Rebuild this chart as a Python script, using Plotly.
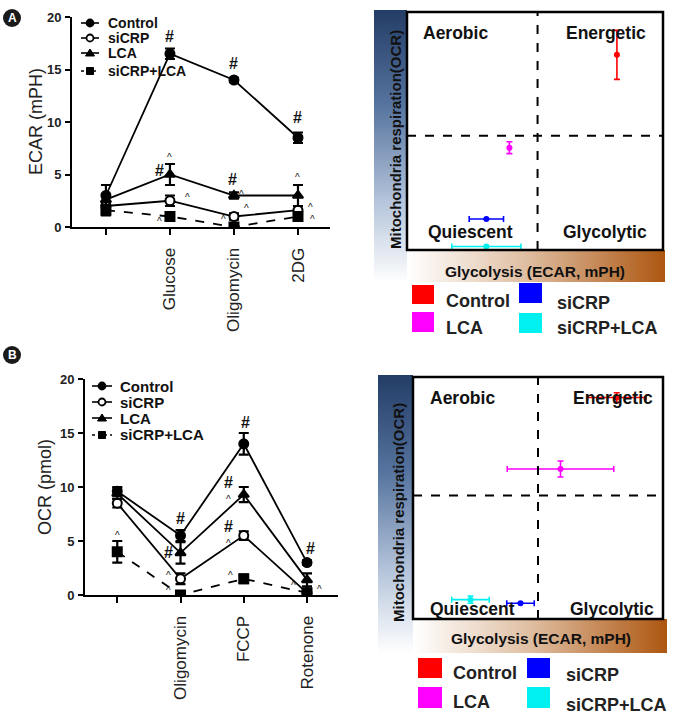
import plotly.graph_objects as go

W, H = 676, 718


def px(x):
    return x / W


def py(y):
    return 1 - y / H


# ---------------- data ----------------
series_names = ["Control", "siCRP", "LCA", "siCRP+LCA"]

ecar_categories = ["", "Glucose", "Oligomycin", "2DG"]
ecar_control = [3.0, 16.5, 14.0, 8.5]
ecar_control_err = [1.0, 0.5, 0.2, 0.5]
ecar_sicrp = [2.0, 2.5, 1.0, 1.6]
ecar_sicrp_err = [0.3, 0.5, 0.3, 0.4]
ecar_lca = [2.6, 5.0, 3.0, 3.0]
ecar_lca_err = [0.5, 1.0, 0.3, 1.0]
ecar_sicrp_lca = [1.6, 1.0, 0.0, 1.0]
ecar_sicrp_lca_err = [0.5, 0.2, 0.3, 0.3]

ocr_categories = ["", "Oligomycin", "FCCP", "Rotenone"]
ocr_control = [9.6, 5.5, 14.0, 3.0]
ocr_control_err = [0.4, 0.5, 1.0, 0.2]
ocr_sicrp = [8.5, 1.5, 5.5, 0.2]
ocr_sicrp_err = [0.4, 0.5, 0.4, 0.2]
ocr_lca = [9.4, 3.9, 9.3, 1.4]
ocr_lca_err = [0.5, 1.0, 0.7, 0.6]
ocr_sicrp_lca = [4.0, 0.0, 1.5, 0.2]
ocr_sicrp_lca_err = [1.0, 0.2, 0.4, 0.2]

# significance marks: (text, x, y)
ecar_marks = [("#", 1, 18.1), ("#", 2, 15.6), ("#", 3, 10.4), ("#", 0.84, 5.4), ("#", 1.97, 4.5),
              ("^", 1, 6.6), ("^", 1.27, 2.8), ("^", 0.84, 0.5), ("^", 2.12, 3.1), ("^", 2.19, 1.8),
              ("^", 1.84, 0.7), ("^", 3, 4.7), ("^", 3.19, 1.9), ("^", 3.22, 0.76)]
ocr_marks = [("#", 1.0, 7.1), ("#", 0.81, 3.9), ("#", 2.03, 16.0), ("#", 1.76, 10.4), ("#", 1.76, 6.3),
             ("#", 3.06, 4.35), ("^", 1.76, 8.8), ("^", 1.76, 4.8), ("^", 0, 5.55), ("^", 0.81, 1.85),
             ("^", 0.81, 0.46), ("^", 1.79, 1.85), ("^", 2.79, 0.9), ("^", 3.2, 0.55)]

# energy map (ECAR on x, OCR on y, arbitrary units)
quad_colors = ["#ff0000", "#0000ff", "#ff00ff", "#00f0f0"]
quad_a_ecar = [8.2, 3.1, 4.0, 3.1]
quad_a_ecar_err = [0.0, 0.67, 0.0, 1.35]
quad_a_ocr = [8.2, 1.3, 4.3, 0.15]
quad_a_ocr_err = [1.03, 0.0, 0.25, 0.0]
quad_a_split = [5.1, 4.8]

quad_b_ecar = [8.15, 4.3, 5.9, 2.3]
quad_b_ecar_err = [1.17, 0.55, 2.13, 0.75]
quad_b_ocr = [9.15, 0.65, 6.2, 0.8]
quad_b_ocr_err = [0.2, 0.0, 0.33, 0.15]
quad_b_split = [5.0, 5.1]

quadrant_labels = ["Aerobic", "Energetic", "Quiescent", "Glycolytic"]

# ---------------- styling ----------------
FONT = "Liberation Sans, Arial, sans-serif"
symbols = ["circle", "circle", "triangle-up", "square"]
fills = ["black", "white", "black", "black"]
dashes = ["solid", "solid", "solid", "dash"]

fig = go.Figure()

# gradient bars (heatmaps) - added first so they sit underneath
grad_levels = [i / 40 for i in range(41)]
blue_scale = [[0, "#ffffff"], [0.3, "#b4c4da"], [0.65, "#56749f"], [1, "#233d66"]]
brown_scale = [[0, "#ffffff"], [0.45, "#e0c0a4"], [1, "#ad5610"]]
for xa, ya in [("x5", "y5"), ("x7", "y7")]:
    fig.add_trace(go.Heatmap(z=[[v, v] for v in grad_levels], x=[0, 1], y=grad_levels,
                             colorscale=blue_scale, showscale=False, zsmooth="best",
                             xaxis=xa, yaxis=ya, hoverinfo="skip"))
for xa, ya in [("x6", "y6"), ("x8", "y8")]:
    fig.add_trace(go.Heatmap(z=[grad_levels, grad_levels], x=grad_levels, y=[0, 1],
                             colorscale=brown_scale, showscale=False, zsmooth="best",
                             xaxis=xa, yaxis=ya, hoverinfo="skip"))


def add_line_panel(xa, ya, vals, errs):
    for i, name in enumerate(series_names):
        fig.add_trace(go.Scatter(
            x=list(range(len(vals[i]))), y=vals[i], name=name,
            mode="lines+markers", showlegend=False,
            line=dict(color="black", width=1.8, dash=dashes[i]),
            marker=dict(symbol=symbols[i], size=9, color=fills[i],
                        line=dict(color="black", width=2)),
            error_y=dict(type="data", array=errs[i], color="black", thickness=2.2, width=5),
            xaxis=xa, yaxis=ya, hoverinfo="skip"))


add_line_panel("x", "y",
               [ecar_control, ecar_sicrp, ecar_lca, ecar_sicrp_lca],
               [ecar_control_err, ecar_sicrp_err, ecar_lca_err, ecar_sicrp_lca_err])
add_line_panel("x2", "y2",
               [ocr_control, ocr_sicrp, ocr_lca, ocr_sicrp_lca],
               [ocr_control_err, ocr_sicrp_err, ocr_lca_err, ocr_sicrp_lca_err])


def add_quad(xa, ya, ex, exe, oy, oye):
    for i in range(len(series_names)):
        fig.add_trace(go.Scatter(
            x=[ex[i]], y=[oy[i]], mode="markers", showlegend=False, cliponaxis=False,
            marker=dict(color=quad_colors[i], size=6),
            error_x=dict(type="data", array=[exe[i]], color=quad_colors[i], thickness=1.6, width=3),
            error_y=dict(type="data", array=[oye[i]], color=quad_colors[i], thickness=1.6, width=3),
            xaxis=xa, yaxis=ya, hoverinfo="skip"))


add_quad("x3", "y3", quad_a_ecar, quad_a_ecar_err, quad_a_ocr, quad_a_ocr_err)
add_quad("x4", "y4", quad_b_ecar, quad_b_ecar_err, quad_b_ocr, quad_b_ocr_err)

tickfont = dict(family=FONT, size=13, color="#222", weight="bold")
catfont = dict(family=FONT, size=17, color="#222")


def line_axes(xdom, ydom, cats, xrng, xa, ya):
    xax = dict(domain=xdom, range=xrng, tickvals=list(range(len(cats))), ticktext=cats,
               tickangle=-90, showline=True, linecolor="black", linewidth=2, ticks="outside",
               ticklen=6, tickwidth=2, tickcolor="black", showgrid=False, zeroline=False,
               tickfont=catfont, ticklabelstandoff=6, fixedrange=True, anchor=ya, automargin=False)
    yax = dict(domain=ydom, range=[0, 20], tickvals=[0, 5, 10, 15, 20], showline=True,
               linecolor="black", linewidth=2, ticks="outside", ticklen=5, tickwidth=2,
               tickcolor="black", showgrid=False, zeroline=False, tickfont=tickfont,
               ticklabelstandoff=1, fixedrange=True, anchor=xa, automargin=False)
    return xax, yax


def quad_axes(xdom, ydom, xa, ya):
    common = dict(range=[0, 10], showline=False, showticklabels=False, ticks="", showgrid=False,
                  zeroline=False, fixedrange=True, automargin=False)
    return dict(domain=xdom, anchor=ya, **common), dict(domain=ydom, anchor=xa, **common)


def hidden(dom, anchor):
    return dict(domain=dom, range=[0, 1], visible=False, fixedrange=True, anchor=anchor,
                automargin=False)


xa1, ya1 = line_axes([px(72), px(330)], [py(227), py(17)], ecar_categories, [-0.53, 3.5], "x", "y")
xa2, ya2 = line_axes([px(85), px(338)], [py(595), py(379)], ocr_categories, [-0.51, 3.49], "x2", "y2")
quad_a_box = (407, 663, 12, 250)
quad_b_box = (413, 663, 377, 619)
xa3, ya3 = quad_axes([px(quad_a_box[0]), px(quad_a_box[1])], [py(quad_a_box[3]), py(quad_a_box[2])], "x3", "y3")
xa4, ya4 = quad_axes([px(quad_b_box[0]), px(quad_b_box[1])], [py(quad_b_box[3]), py(quad_b_box[2])], "x4", "y4")

fig.update_layout(
    template="none",
    width=W, height=H, margin=dict(l=0, r=0, t=0, b=0, autoexpand=False),
    paper_bgcolor="white", plot_bgcolor="rgba(0,0,0,0)",
    font=dict(family=FONT, color="#111"),
    showlegend=False,
    xaxis=xa1, yaxis=ya1, xaxis2=xa2, yaxis2=ya2,
    xaxis3=xa3, yaxis3=ya3, xaxis4=xa4, yaxis4=ya4,
    xaxis5=hidden([px(374), px(407)], "y5"), yaxis5=hidden([py(282), py(10)], "x5"),
    xaxis6=hidden([px(407), px(665)], "y6"), yaxis6=hidden([py(282), py(250)], "x6"),
    xaxis7=hidden([px(378), px(413)], "y7"), yaxis7=hidden([py(653), py(375)], "x7"),
    xaxis8=hidden([px(413), px(667)], "y8"), yaxis8=hidden([py(653), py(619)], "x8"),
)

ann = []
shapes = []


def label(text, x, y, size, weight="bold", angle=0, xanchor="center", color="#111"):
    ann.append(dict(text=text, x=px(x), y=py(y), xref="paper", yref="paper", showarrow=False,
                    xanchor=xanchor, yanchor="middle", textangle=angle,
                    font=dict(family=FONT, size=size, color=color, weight=weight)))


# significance marks
for xr, yr, marks in [("x", "y", ecar_marks), ("x2", "y2", ocr_marks)]:
    for t, x, y in marks:
        ann.append(dict(text=t, x=x, y=y, xref=xr, yref=yr, showarrow=False,
                        xanchor="center", yanchor="middle",
                        font=dict(family=FONT, size=16 if t == "#" else 10, color="#111",
                                  weight="bold" if t == "#" else "normal")))

# axis titles
label("ECAR (mPH)", 36, 122, 18, weight="normal", angle=-90, color="#222")
label("OCR (pmol)", 45, 487, 18, weight="normal", angle=-90, color="#222")

# manual legends for the line panels
for (lx0, lx1, tx, rows, fsize) in [(81, 99, 106, [23, 38, 53, 71], 14),
                                     (92, 112, 118, [386, 402, 418, 435], 15)]:
    mx = (lx0 + lx1) / 2
    for i, ry in enumerate(rows):
        shapes.append(dict(type="line", xref="paper", yref="paper", x0=px(lx0), x1=px(lx1),
                           y0=py(ry), y1=py(ry),
                           line=dict(color="black", width=1.6, dash="dot" if i == 3 else "solid")))
        r = 3.5
        if symbols[i] == "circle":
            shapes.append(dict(type="circle", xref="paper", yref="paper", x0=px(mx - r), x1=px(mx + r),
                               y0=py(ry + r), y1=py(ry - r), fillcolor=fills[i],
                               line=dict(color="black", width=1.8)))
        elif symbols[i] == "triangle-up":
            path = "M {} {} L {} {} L {} {} Z".format(px(mx - 4.5), py(ry + 3), px(mx + 4.5), py(ry + 3),
                                                      px(mx), py(ry - 4))
            shapes.append(dict(type="path", xref="paper", yref="paper", path=path, fillcolor="black",
                               line=dict(color="black", width=1)))
        else:
            shapes.append(dict(type="rect", xref="paper", yref="paper", x0=px(mx - 3.5), x1=px(mx + 3.5),
                               y0=py(ry + 3.5), y1=py(ry - 3.5), fillcolor="black",
                               line=dict(color="black", width=1)))
        label(series_names[i], tx, ry, fsize, xanchor="left")

# panel badges
for letter, cy in [("A", 18), ("B", 355)]:
    shapes.append(dict(type="circle", xref="paper", yref="paper", x0=px(3), x1=px(21),
                       y0=py(cy + 9), y1=py(cy - 9), fillcolor="#1a1a1a", line=dict(width=0)))
    label(letter, 12, cy, 12, color="white")

# quadrant boxes and dashed lines
for (x0, x1, y0, y1) in [quad_a_box, quad_b_box]:
    shapes.append(dict(type="rect", xref="paper", yref="paper", x0=px(x0), x1=px(x1),
                       y0=py(y1), y1=py(y0), line=dict(color="black", width=2.5), layer="above"))
for xa, ya, split in [("x3", "y3", quad_a_split), ("x4", "y4", quad_b_split)]:
    shapes.append(dict(type="line", xref=xa, yref=ya, x0=split[0], x1=split[0], y0=0, y1=10,
                       line=dict(color="black", width=2, dash="dash")))
    shapes.append(dict(type="line", xref=xa, yref=ya, x0=0, x1=10, y0=split[1], y1=split[1],
                       line=dict(color="black", width=2, dash="dash")))

# quadrant labels
for labels_pos in [
    [(455, 33), (606, 33), (470, 232), (605, 232)],
    [(462, 398), (613, 398), (472, 609), (612, 609)],
]:
    for lab, (x, y) in zip(quadrant_labels, labels_pos):
        label(lab, x, y, 17.5)

for (ox, oy), (gx, gy) in [((396, 140), (535, 271)), ((398, 513), (541, 638))]:
    label("Mitochondria respiration(OCR)", ox, oy, 15, angle=-90)
    label("Glycolysis (ECAR, mPH)", gx, gy, 15.5)

# manual colour legends for energy maps
legend_boxes = [
    [(0, 412, 434, 285, 304, 444, 301), (2, 412, 434, 312, 332, 444, 328),
     (1, 519, 542, 283, 303, 555, 303), (3, 519, 542, 313, 333, 555, 328)],
    [(0, 418, 442, 658, 678, 451, 673), (2, 418, 442, 687, 708, 451, 702),
     (1, 527, 550, 658, 678, 564, 675), (3, 527, 550, 687, 708, 564, 705)],
]
for group in legend_boxes:
    for i, x0, x1, y0, y1, tx, ty in group:
        shapes.append(dict(type="rect", xref="paper", yref="paper", x0=px(x0), x1=px(x1),
                           y0=py(y1), y1=py(y0), fillcolor=quad_colors[i], line=dict(width=0)))
        label(series_names[i], tx, ty, 18, xanchor="left", color="#222")

fig.update_layout(annotations=ann, shapes=shapes)
fig.write_html("out.html", config={"displayModeBar": False},
               post_script="document.body.style.margin='0';document.body.style.overflow='hidden';")
